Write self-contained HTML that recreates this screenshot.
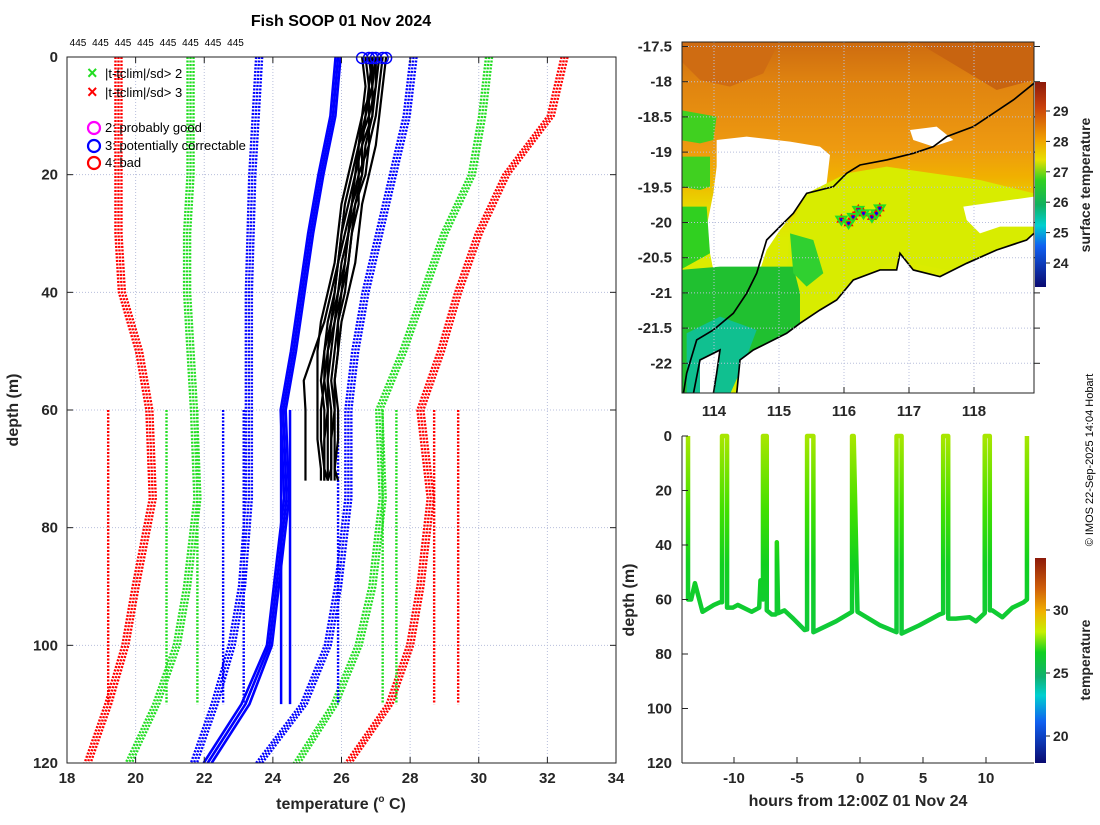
<!DOCTYPE html>
<html><head><meta charset="utf-8"><style>
body{margin:0;background:#fff;}
svg text{font-family:"Liberation Sans",sans-serif;}
</style></head><body>
<svg id="s" width="1100" height="820" viewBox="0 0 1100 820" xmlns="http://www.w3.org/2000/svg">
<defs>
<linearGradient id="cmap" x1="0" y1="0" x2="0" y2="1">
<stop offset="0" stop-color="#8c1a0a"/><stop offset="0.12" stop-color="#c8400c"/><stop offset="0.28" stop-color="#f0a000"/><stop offset="0.38" stop-color="#e8e000"/><stop offset="0.48" stop-color="#30d020"/><stop offset="0.6" stop-color="#10b060"/><stop offset="0.7" stop-color="#00d0d0"/><stop offset="0.8" stop-color="#1060f0"/><stop offset="1" stop-color="#0a0a70"/>
</linearGradient>
<linearGradient id="cmap2" x1="0" y1="0" x2="0" y2="1">
<stop offset="0" stop-color="#8c1a0a"/><stop offset="0.15" stop-color="#d0600a"/><stop offset="0.26" stop-color="#f0b000"/><stop offset="0.36" stop-color="#c8f000"/><stop offset="0.46" stop-color="#10d020"/><stop offset="0.58" stop-color="#10b070"/><stop offset="0.67" stop-color="#00d0d0"/><stop offset="0.8" stop-color="#1060f0"/><stop offset="1" stop-color="#0a0a70"/>
</linearGradient>
<linearGradient id="sst" x1="0" y1="0" x2="0" y2="1">
<stop offset="0" stop-color="#cc6a10"/><stop offset="0.12" stop-color="#e08410"/><stop offset="0.3" stop-color="#ee9a10"/><stop offset="0.38" stop-color="#f0b000"/><stop offset="0.46" stop-color="#e8d800"/><stop offset="0.55" stop-color="#dcec00"/><stop offset="1" stop-color="#d8ee00"/>
</linearGradient>
<linearGradient id="trk" gradientUnits="userSpaceOnUse" x1="0" y1="436" x2="0" y2="650">
<stop offset="0" stop-color="#a8e600"/><stop offset="0.35" stop-color="#40e000"/><stop offset="0.6" stop-color="#10d020"/><stop offset="1" stop-color="#10c840"/>
</linearGradient>
<clipPath id="mapclip"><rect x="682" y="42" width="352" height="351"/></clipPath>
<clipPath id="lclip"><rect x="67" y="57" width="549" height="706"/></clipPath>
</defs>
<g id="left"></g>
<g id="map"></g>
<g id="br"></g>
<text x="1093" y="460" font-size="11" text-anchor="middle" transform="rotate(-90 1093 460)">© IMOS 22-Sep-2025 14:04 Hobart</text>
</svg>
<script>
// ---------- Left chart data ----------
const climDepths=[0,10,20,30,40,50,60,75,90,100,110,120];
const redLeft=[19.5,19.5,19.5,19.5,19.6,20.1,20.4,20.5,20.0,19.7,19.2,18.6];
const greenLeft=[21.6,21.6,21.6,21.5,21.5,21.6,21.7,21.8,21.5,21.2,20.6,19.8];
const blueLeft=[23.6,23.5,23.4,23.35,23.3,23.3,23.3,23.3,23.1,22.8,22.3,21.7];
const blueRight=[28.1,27.9,27.5,27.1,26.7,26.4,26.2,26.2,25.9,25.6,24.9,23.6];
const greenRight=[30.3,30.1,29.8,29.0,28.4,27.8,27.1,27.2,26.9,26.5,25.8,24.7];
const redRight=[32.5,32.1,30.8,30.0,29.4,28.9,28.3,28.6,28.3,28.0,27.4,26.2];
const dropTemps=[19.2,20.9,21.8,22.55,23.15,25.9,27.2,27.6,28.7,29.4];
const dropColors=["red","#22dd22","#22dd22","blue","blue","blue","#22dd22","#22dd22","red","red"];
const meanDepths=[0,10,20,30,40,50,60,75,90,100,110,120];
const meanTemps=[25.9,25.75,25.4,25.1,24.85,24.6,24.3,24.4,24.1,23.9,23.2,22.1];
const meanDrops=[24.24,24.5];
const profDepths=[0,5,10,15,20,25,30,35,40,45,50,55,60,65,70,72];
const profiles=[
[26.6,26.7,26.6,26.4,26.2,26.0,25.9,25.8,25.6,25.4,25.3,25.3,25.3,25.3,25.4,25.4],
[26.8,26.9,26.6,26.5,26.4,26.2,26.0,25.9,25.8,25.7,25.5,25.5,25.4,25.4,25.5,25.5],
[26.9,26.8,26.8,26.5,26.5,26.3,26.2,26.0,25.9,25.7,25.6,25.5,25.6,25.6,25.6,25.6],
[27.0,27.0,26.9,26.7,26.6,26.4,26.2,26.1,26.0,25.8,25.7,25.6,25.7,25.7,25.7,25.7],
[27.1,27.0,26.8,26.8,26.5,26.5,26.3,26.2,26.1,25.9,25.8,25.7,25.8,25.8,25.8,25.8],
[27.2,27.1,27.0,26.8,26.7,26.4,26.3,26.2,26.0,25.9,25.9,25.8,25.9,25.9,25.8,25.9],
[27.3,27.2,27.1,27.0,26.8,26.6,26.5,26.4,26.2,26.0,25.9,25.8,25.8,25.7,25.7,25.6],
[26.7,26.8,26.7,26.5,26.3,26.1,26.0,25.9,25.7,25.5,25.2,24.9,24.95,24.95,24.95,24.95],
[26.9,26.9,26.7,26.6,26.4,26.3,26.1,25.9,25.8,25.6,25.5,25.4,25.5,25.5,25.5,25.6],
[27.0,26.9,26.9,26.6,26.6,26.3,26.2,26.1,25.9,25.8,25.6,25.6,25.6,25.5,25.5,25.5]
];
const flagTemps=[26.6,26.8,26.9,27.0,27.2,27.3];
const xTicks=[18,20,22,24,26,28,30,32,34];
const yTicks=[0,20,40,60,80,100,120];
const topCounts=["445","445","445","445","445","445","445","445"];

// ---------- Map data ----------
const shipLon=[115.96,116.07,116.14,116.22,116.30,116.43,116.50,116.55];
const shipLat=[-19.96,-20.01,-19.92,-19.82,-19.87,-19.92,-19.87,-19.80];
const lonTicks=[114,115,116,117,118];
const latTicks=[-17.5,-18,-18.5,-19,-19.5,-20,-20.5,-21,-21.5,-22];
const sstTicks=[24,25,26,27,28,29];

// ---------- Bottom-right data ----------
const trkHours=[-13.65,-13.65,-13.4,-13.1,-12.5,-11.6,-11.1,-10.95,-10.95,-10.55,-10.55,-10.1,-9.7,-8.6,-8.0,-7.9,-7.7,-7.7,-7.4,-7.4,-7.0,-6.7,-6.6,-6.6,-6.5,-6.0,-5.3,-4.4,-4.2,-4.2,-3.7,-3.7,-1.9,-0.63,-0.63,-0.5,-0.2,1.6,2.9,2.9,3.3,3.3,4.7,6.3,6.6,6.6,7.0,7.0,7.6,8.7,9.2,9.9,9.9,10.3,10.3,10.5,11.3,12.1,13.0,13.25,13.25];
const trkDepth=[0,60,60,54,64.5,62,61,61,0,0,63,63,62,64.5,63,53,60,0,0,64,65.5,65.5,65,39,65,64,67,71.2,71,0,0,72,68,64.5,0,0,64.5,69.5,72,0,0,72.5,69.5,65.5,65,0,0,67,67,66.5,68,65,0,0,64,64,66.5,63,61,60,0];
const hourTicks=[-10,-5,0,5,10];
const brDepthTicks=[0,20,40,60,80,100,120];
const tempTicks=[20,25,30];

const NS="http://www.w3.org/2000/svg";
function mk(parent,tag,attrs,text){const e=document.createElementNS(NS,tag);for(const k in attrs)e.setAttribute(k,attrs[k]);if(text!==undefined)e.textContent=text;parent.appendChild(e);return e;}

// ===== Left chart =====
const L=document.getElementById('left');
const lx=t=>67+(t-18)*549/16, ly=d=>57+d*706/120;
xTicks.forEach(t=>{const g=mk(L,'line',{x1:lx(t),x2:lx(t),y1:57,y2:763,stroke:'#b8bfdc','stroke-dasharray':'1 2','stroke-width':1});

});
yTicks.forEach(d=>{const g=mk(L,'line',{x1:67,x2:616,y1:ly(d),y2:ly(d),stroke:'#b8bfdc','stroke-dasharray':'1 2','stroke-width':1});

});
const LC=mk(L,'g',{'clip-path':'url(#lclip)'});
function band(arr,color,name){
  [-3,0,3].forEach(o=>{
    const p=mk(LC,'polyline',{points:arr.map((t,i)=>(lx(t)+o)+','+ly(climDepths[i])).join(' '),fill:'none',stroke:color,'stroke-width':2.4,'stroke-dasharray':'2 1.5'});
    
    
  });
}
band(redLeft,'red','clim-red-left');band(greenLeft,'#22dd22','clim-green-left');band(blueLeft,'blue','clim-blue-left');
band(blueRight,'blue','clim-blue-right');band(greenRight,'#22dd22','clim-green-right');band(redRight,'red','clim-red-right');
dropTemps.forEach((t,i)=>{const p=mk(LC,'line',{x1:lx(t),x2:lx(t),y1:ly(60),y2:ly(110),stroke:dropColors[i],'stroke-width':2.4,'stroke-dasharray':'2 1.5'});

});
[-2.5,0,2.5].forEach((o,k)=>{const p=mk(LC,'polyline',{points:meanTemps.map((t,i)=>(lx(t)+o*(i>9?1.6:1))+','+ly(meanDepths[i])).join(' '),fill:'none',stroke:'blue','stroke-width':2.6});

});
meanDrops.forEach(t=>{const p=mk(LC,'line',{x1:lx(t),x2:lx(t),y1:ly(60),y2:ly(110),stroke:'blue','stroke-width':2.5});

});
profiles.forEach((pr,k)=>{const p=mk(LC,'polyline',{points:pr.map((t,i)=>lx(t)+','+ly(profDepths[i])).join(' '),fill:'none',stroke:'#000','stroke-width':2.2,'stroke-linejoin':'round'});

});
flagTemps.forEach(t=>{const c=mk(L,'circle',{cx:lx(t),cy:ly(0)+1,r:5.5,fill:'none',stroke:'blue','stroke-width':1.5});

});
mk(L,'rect',{x:67,y:57,width:549,height:706,fill:'none',stroke:'#222','stroke-width':1});
xTicks.forEach(t=>{mk(L,'line',{x1:lx(t),x2:lx(t),y1:763,y2:757,stroke:'#222'});mk(L,'line',{x1:lx(t),x2:lx(t),y1:57,y2:63,stroke:'#222'});
const tx=mk(L,'text',{x:lx(t),y:783,'font-size':15,'font-weight':'bold','text-anchor':'middle',fill:'#262626'},t);

});
yTicks.forEach(d=>{mk(L,'line',{x1:67,x2:73,y1:ly(d),y2:ly(d),stroke:'#222'});mk(L,'line',{x1:616,x2:610,y1:ly(d),y2:ly(d),stroke:'#222'});
const tx=mk(L,'text',{x:58,y:ly(d)+5,'font-size':15,'font-weight':'bold','text-anchor':'end',fill:'#262626'},d);

});
topCounts.forEach((c,i)=>{const tx=mk(L,'text',{x:78+i*22.5,y:46,'font-size':10,'text-anchor':'middle'},c);

});
</script>
<script>
{
const L=document.getElementById('left');
function t(x,y,s,attrs,name){const e=document.createElementNS("http://www.w3.org/2000/svg",'text');e.setAttribute('x',x);e.setAttribute('y',y);for(const k in attrs)e.setAttribute(k,attrs[k]);e.innerHTML=s;L.appendChild(e);

return e;}
t(341,26,'Fish SOOP 01 Nov 2024',{'font-size':16,'font-weight':'bold','text-anchor':'middle'},'chart-title');
t(341,809,'temperature (<tspan font-size="10" dy="-7">o</tspan><tspan dy="7"> C)</tspan>',{'font-size':16,'font-weight':'bold','text-anchor':'middle',fill:'#262626'},'x-axis-title');
t(18,410,'depth (m)',{'font-size':16,'font-weight':'bold','text-anchor':'middle',transform:'rotate(-90 18 410)',fill:'#262626'},'y-axis-title');
t(87,79,'×',{'font-size':18,'font-weight':'bold',fill:'#22dd22'},'legend-green-cross');
t(87,98,'×',{'font-size':18,'font-weight':'bold',fill:'red'},'legend-red-cross');
t(105,78,'|t-tclim|/sd&gt; 2',{'font-size':13},'legend-sd2');
t(105,97,'|t-tclim|/sd&gt; 3',{'font-size':13},'legend-sd3');
t(105,132,'2: probably good',{'font-size':13},'legend-flag2');
t(105,150,'3: potentially correctable',{'font-size':13},'legend-flag3');
t(105,167,'4: bad',{'font-size':13},'legend-flag4');
const NS="http://www.w3.org/2000/svg";
[['#ff00ff',128,'legend-magenta-circle'],['blue',146,'legend-blue-circle'],['red',163,'legend-red-circle']].forEach(a=>{const c=document.createElementNS(NS,'circle');c.setAttribute('cx',94);c.setAttribute('cy',a[1]);c.setAttribute('r',6);c.setAttribute('fill','none');c.setAttribute('stroke',a[0]);c.setAttribute('stroke-width',2.2);L.appendChild(c);

});
}
// ===== Map =====
{
const M=document.getElementById('map');
const mx=l=>714+(l-114)*65, my=a=>81.7+(-18-a)*70.4;
const g=mk(M,'g',{'clip-path':'url(#mapclip)'});
const z=mk(g,'g',{transform:'translate(680 40) scale(0.3333)'});
const bg=mk(z,'rect',{x:0,y:0,width:1080,height:1080,fill:'url(#sst)'});


const shapes=[
['#cf6c12','M0 0 L300 0 L250 100 L150 140 L60 120 L0 60 Z','sst-warm-nw'],
['#c86410','M700 0 L1062 0 L1062 120 L950 150 L850 90 Z','sst-warm-ne'],
['#d8ec00','M380 460 L500 400 L620 380 L760 400 L900 420 L1062 460 L1062 600 L950 640 L800 690 L650 660 L520 720 L420 800 L360 850 L320 700 L330 560 Z','sst-coastal'],
['#fff','M110 300 L200 290 L330 305 L420 320 L450 345 L440 430 L380 460 L340 520 L300 570 L260 630 L240 690 L150 700 L100 690 L90 640 L80 560 L100 460 L110 380 Z','cloud-gap-west'],
['#40d020','M0 210 L110 230 L100 300 L60 310 L0 300 Z','sst-green-nw'],
['#40d020','M0 350 L90 350 L90 440 L60 450 L0 440 Z','sst-green-w'],
['#30d020','M0 500 L80 500 L90 640 L0 690 Z','sst-green-sw'],
['#20c030','M0 690 L120 680 L260 680 L340 680 L360 760 L360 850 L300 900 L200 950 L150 1062 L0 1062 Z','sst-green-shelf'],
['#10c090','M20 880 L120 830 L230 870 L200 950 L150 1062 L20 1062 Z','sst-teal'],
['#30d030','M330 580 L400 600 L430 700 L380 740 L340 700 Z','sst-green-eddy'],
['#fff','M850 500 L1062 470 L1062 560 L960 560 L900 580 L860 540 Z','cloud-gap-east'],
['#fff','M1062 580 L1040 600 L950 630 L860 670 L780 710 L700 690 L660 640 L650 690 L600 690 L520 720 L470 780 L420 810 L360 850 L320 880 L280 900 L220 930 L180 960 L170 1062 L1062 1062 Z','land'],
['#fff','M60 960 L120 930 L110 1000 L100 1062 L60 1062 Z','land-peninsula'],
['#fff','M690 270 L770 260 L820 300 L760 320 L700 300 Z','cloud-gap-north']
];
shapes.forEach(s=>{const p=mk(z,'path',{d:s[1],fill:s[0]});

});
const iso=mk(z,'polyline',{points:'1062,130 1000,180 940,220 880,260 800,290 760,320 700,340 620,360 540,375 500,400 460,440 380,460 340,520 300,560 260,600 230,700 200,760 160,820 100,870 50,900 20,1000 10,1062',fill:'none',stroke:'#000','stroke-width':5});


const cst=mk(z,'polyline',{points:'1062,580 1040,600 950,630 860,670 780,710 700,690 660,640 650,690 600,690 520,720 470,780 420,810 360,850 320,880 280,900 220,930 180,960 170,1062',fill:'none',stroke:'#000','stroke-width':5});


mk(z,'polyline',{points:'40,1062 60,960 120,930 110,1000 100,1062',fill:'none',stroke:'#000','stroke-width':5});
lonTicks.forEach(l=>{mk(g,'line',{x1:mx(l),x2:mx(l),y1:42,y2:393,stroke:'#b8bfdc','stroke-dasharray':'1 2'});});
latTicks.forEach(a=>{mk(g,'line',{x1:682,x2:1034,y1:my(a),y2:my(a),stroke:'#b8bfdc','stroke-dasharray':'1 2'});});
shipLon.forEach((l,i)=>{const x=mx(l),y=my(shipLat[i]);
const a=mk(M,'path',{d:`M${x} ${y-6} L${x+5} ${y+3} L${x-5} ${y+3} Z`,fill:'red'});


const b=mk(M,'path',{d:`M${x-5} ${y-3} L${x+5} ${y-3} L${x} ${y+5} Z`,fill:'none',stroke:'#22dd22','stroke-width':2});


mk(M,'circle',{cx:x,cy:y,r:1.5,fill:'blue'});});
mk(M,'rect',{x:682,y:42,width:352,height:351,fill:'none',stroke:'#222'});
lonTicks.forEach(l=>{mk(M,'line',{x1:mx(l),x2:mx(l),y1:393,y2:387,stroke:'#222'});
const tx=mk(M,'text',{x:mx(l),y:416,'font-size':15,'font-weight':'bold','text-anchor':'middle',fill:'#262626'},l);

});
latTicks.forEach(a=>{mk(M,'line',{x1:682,x2:688,y1:my(a),y2:my(a),stroke:'#222'});mk(M,'line',{x1:1034,x2:1040,y1:my(a),y2:my(a),stroke:'#222'});
const tx=mk(M,'text',{x:672,y:my(a)+5,'font-size':15,'font-weight':'bold','text-anchor':'end',fill:'#262626'},a);

});
const cb=mk(M,'rect',{x:1035,y:82,width:11,height:205,fill:'url(#cmap)'});


const cy=v=>111+(29-v)*30.4;
sstTicks.forEach(v=>{mk(M,'line',{x1:1046,x2:1050,y1:cy(v),y2:cy(v),stroke:'#222'});
const tx=mk(M,'text',{x:1053,y:cy(v)+5,'font-size':14,'font-weight':'bold',fill:'#262626'},v);

});
const cl=mk(M,'text',{x:1090,y:185,'font-size':14,'font-weight':'bold','text-anchor':'middle',transform:'rotate(-90 1090 185)',fill:'#262626'},'surface temperature');


}
// ===== Bottom right =====
{
const B=document.getElementById('br');
const bx=h=>860+h*12.6, by=d=>436+d*2.725;
const tr=mk(B,'polyline',{points:trkHours.map((h,i)=>bx(h)+','+by(trkDepth[i])).join(' '),fill:'none',stroke:'url(#trk)','stroke-width':4.5,'stroke-linejoin':'round'});


mk(B,'line',{x1:682,x2:682,y1:436,y2:763,stroke:'#222'});
mk(B,'line',{x1:682,x2:1034,y1:763,y2:763,stroke:'#222'});
hourTicks.forEach(h=>{mk(B,'line',{x1:bx(h),x2:bx(h),y1:763,y2:757,stroke:'#222'});
const tx=mk(B,'text',{x:bx(h),y:783,'font-size':15,'font-weight':'bold','text-anchor':'middle',fill:'#262626'},h);

});
brDepthTicks.forEach(d=>{mk(B,'line',{x1:682,x2:688,y1:by(d),y2:by(d),stroke:'#222'});
const tx=mk(B,'text',{x:672,y:by(d)+5,'font-size':15,'font-weight':'bold','text-anchor':'end',fill:'#262626'},d);

});
const cb=mk(B,'rect',{x:1035,y:558,width:11,height:205,fill:'url(#cmap2)'});


const cy=v=>610+(30-v)*12.6;
tempTicks.forEach(v=>{mk(B,'line',{x1:1046,x2:1050,y1:cy(v),y2:cy(v),stroke:'#222'});
const tx=mk(B,'text',{x:1053,y:cy(v)+5,'font-size':14,'font-weight':'bold',fill:'#262626'},v);

});
const xt=mk(B,'text',{x:858,y:806,'font-size':16,'font-weight':'bold','text-anchor':'middle',fill:'#262626'},'hours from 12:00Z 01 Nov 24');


const yt=mk(B,'text',{x:634,y:600,'font-size':16,'font-weight':'bold','text-anchor':'middle',transform:'rotate(-90 634 600)',fill:'#262626'},'depth (m)');


const ct=mk(B,'text',{x:1090,y:660,'font-size':14,'font-weight':'bold','text-anchor':'middle',transform:'rotate(-90 1090 660)',fill:'#262626'},'temperature');


}
</script>
</body></html>
